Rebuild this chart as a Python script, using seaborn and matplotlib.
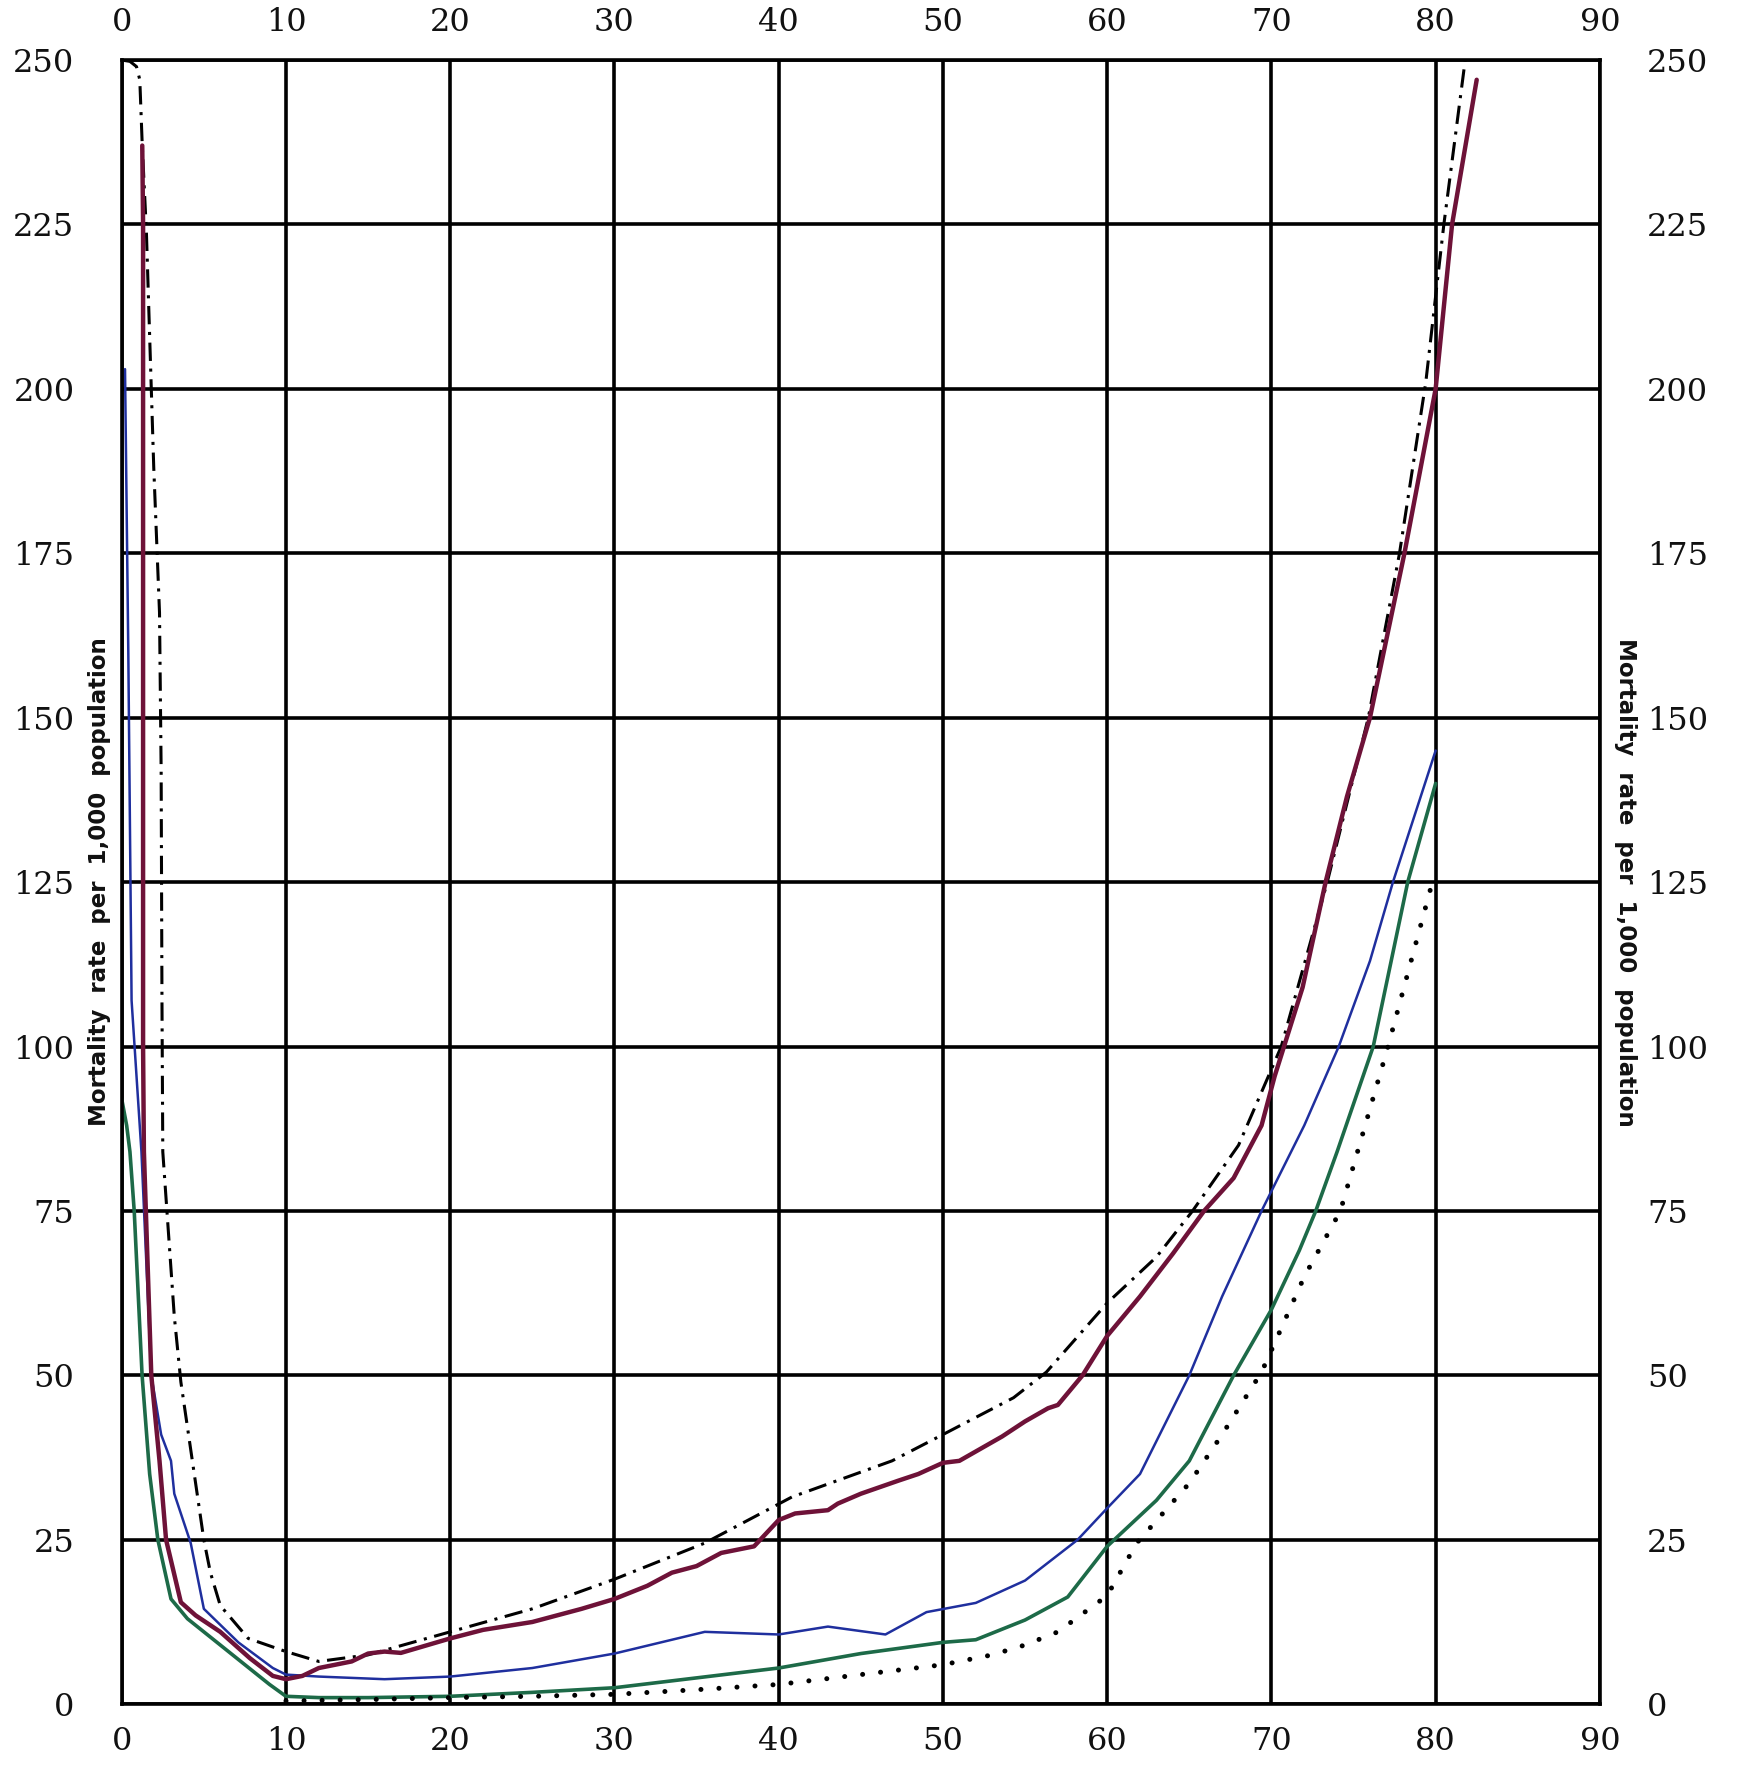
import matplotlib
matplotlib.use("Agg")
import matplotlib.pyplot as plt
import seaborn as sns
import pandas as pd

# ---------------- data ----------------
age_ticks = [0, 10, 20, 30, 40, 50, 60, 70, 80, 90]
rate_ticks = [0, 25, 50, 75, 100, 125, 150, 175, 200, 225, 250]
ylabel_text = "Mortality  rate  per  1,000  population"

# dash-dot black series
dashdot_age = [0, 0.5, 0.9, 1.1, 1.25, 1.5, 1.8, 1.95, 2.3, 2.4, 2.45, 2.5, 3.2, 3.6, 5.0, 5.4,
               6.0, 7.7, 10, 12, 15, 20, 25, 30, 35.5, 40.8, 46.9, 50, 54.3, 56.3, 60, 63,
               65.2, 68, 70.6, 73.4, 75.9, 77.8, 79.4, 80.5, 81.8]
dashdot_rate = [250, 249.8, 249, 247, 237, 224, 200, 188, 166, 142, 107, 84, 59, 49, 25, 20,
                15, 10, 8, 6.5, 7.5, 11, 14.5, 19, 24.5, 31.5, 37, 41, 46.6, 50.5, 61, 68,
                75, 85, 100, 125, 150, 175, 201, 225, 250]

# maroon solid series
maroon_age = [1.25, 1.3, 1.3, 1.3, 1.35, 1.8, 2.3, 2.7, 3.6, 4.5, 6.0, 7.8, 9.2, 10, 11, 12,
              14, 15, 16, 17, 20, 22, 25, 28, 30, 32, 33.5, 35, 36.5, 38.5, 40, 41, 43, 43.6,
              45, 47.3, 48.5, 50, 51, 53.6, 55, 56.4, 57, 58.5, 60, 62, 64, 65.9, 67.7, 69.4,
              70.2, 71.9, 73.3, 74.6, 76, 78.1, 80, 81, 82.5]
maroon_rate = [237, 225, 150, 100, 84, 50, 37, 25, 15.5, 13.5, 11, 7, 4.3, 3.8, 4.3, 5.5,
               6.5, 7.7, 8.0, 7.8, 10, 11.3, 12.5, 14.5, 16, 18, 20, 21, 23, 24, 28, 29, 29.5, 30.5,
               32, 34, 35, 36.7, 37, 40.7, 43, 45, 45.5, 50, 56, 62, 68.5, 75, 80, 88,
               95.5, 109, 125, 138, 150, 175, 200, 225, 247]

# blue thin series
blue_age = [0.2, 0.4, 0.6, 1.2, 1.8, 2.4, 3.0, 3.2, 4.2, 5.0, 7.1, 9.2, 10, 12, 16, 20, 25,
            30, 35.5, 40, 43, 46.5, 49, 52, 55, 58.2, 60, 62, 65, 67, 69.4, 70, 72, 74.1,
            76, 77.4, 80]
blue_rate = [203, 160, 107, 84, 50, 41, 37, 32, 24.5, 14.5, 9.4, 5.5, 4.5, 4.2, 3.8, 4.2, 5.5,
             7.7, 11, 10.6, 11.8, 10.6, 14, 15.4, 18.8, 25, 29.8, 35, 50, 62, 75, 78, 88, 100,
             113, 125, 145]

# green series
green_age = [0, 0.3, 0.5, 0.76, 1.24, 1.7, 2.2, 3.0, 4.0, 5.0, 6.0, 7.0, 8.0, 9.0, 10, 12, 15,
             20, 25, 30, 35, 40, 45, 50, 52, 55, 57.6, 60, 63, 65, 67.7, 70, 71.7, 72.7, 74,
             76.2, 78.3, 80]
green_rate = [92, 88, 84, 75, 50, 35, 25, 16, 13, 11, 9, 7, 5, 3, 1.2, 1.0, 1.0,
              1.2, 1.8, 2.5, 4.0, 5.5, 7.7, 9.4, 9.8, 12.8, 16.3, 24, 31, 37, 50, 60, 69, 75, 84,
              100, 125, 140]

# dotted black series
dotted_age = [10, 15, 20, 25, 30, 35, 40, 45, 50, 53, 55, 57, 60, 61.8, 65, 67, 69.4, 70, 72,
              74.2, 77.1, 79.8, 80]
dotted_rate = [0.5, 0.7, 1.0, 1.2, 1.5, 2.2, 3.0, 4.5, 6.0, 7.5, 9.0, 11, 16.5, 24.5, 33.6, 41,
               50.5, 53.8, 65, 75, 100, 125, 126]

# ---------------- style ----------------
sns.set_theme(style="white")
plt.rcParams['font.family'] = ['DejaVu Serif']

fig = plt.figure(figsize=(17.39, 17.66), dpi=100)
ax = fig.add_axes([0.070, 0.035, 0.850, 0.931])

series = [
    (dashdot_age, dashdot_rate, dict(color="black", lw=2.2, dashes=(6, 2.5, 1, 2.5))),
    (green_age, green_rate, dict(color="#1d6a48", lw=2.6)),
    (dotted_age, dotted_rate, dict(color="black", lw=3.6, dashes=(0.01, 3.6),
                                   dash_capstyle="round")),
    (blue_age, blue_rate, dict(color="#1f2f9e", lw=1.8)),
    (maroon_age, maroon_rate, dict(color="#6e1238", lw=3.2)),
]
for xs, ys, kw in series:
    df = pd.DataFrame({"age": xs, "rate": ys})
    sns.lineplot(data=df, x="age", y="rate", sort=False, estimator=None, ax=ax, **kw)

ax.set_xlim(0, 90)
ax.set_ylim(0, 250)
ax.set_xticks(age_ticks)
ax.set_yticks(rate_ticks)
ax.set_xticklabels([str(v) for v in age_ticks])
ax.set_yticklabels([str(v) for v in rate_ticks])
ax.grid(True, color="black", lw=2.6)
ax.set_axisbelow(True)
for s in ax.spines.values():
    s.set_color("black")
    s.set_linewidth(2.6)

ax.tick_params(axis="both", which="both", length=0, labelsize=23, colors="#111111")
ax.tick_params(axis="x", top=True, labeltop=True, bottom=True, labelbottom=True, pad=16)
ax.tick_params(axis="y", left=True, labelleft=True, right=True, labelright=True, pad=34)

ax.set_xlabel("")
ax.set_ylabel(ylabel_text, fontfamily="DejaVu Sans", fontsize=16.5, fontweight="bold",
              color="#111111")
ax.yaxis.set_label_coords(-0.007, 0.5)
ax.text(1.017, 0.5, ylabel_text, transform=ax.transAxes, rotation=-90, ha="center",
        va="center", fontfamily="DejaVu Sans", fontsize=16.5, fontweight="bold", color="#111111")

fig.savefig("out.png", dpi=100)
